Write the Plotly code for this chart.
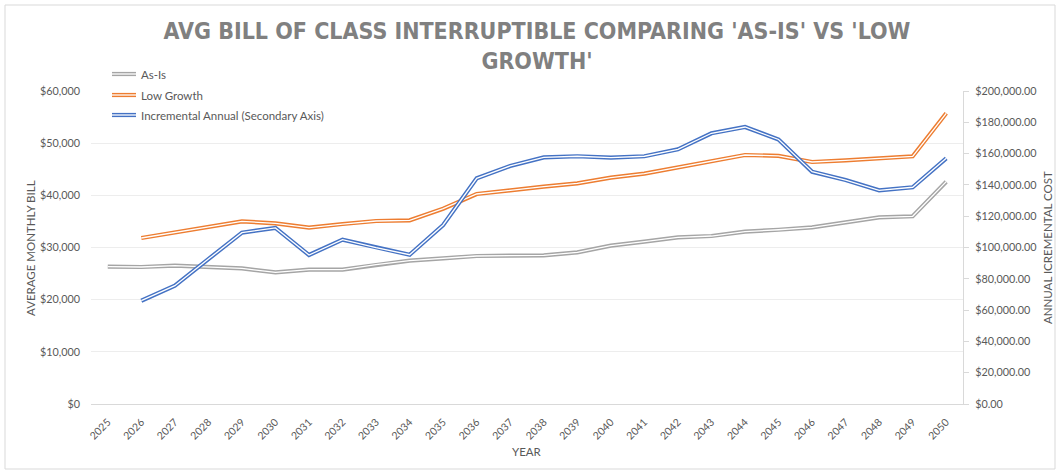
import plotly.graph_objects as go

years = [str(y) for y in range(2025, 2051)]
as_is = [26320, 26260, 26520, 26260, 26000, 25240, 25750, 25750, 26710, 27470,
         27920, 28370, 28430, 28500, 29080, 30350, 31110, 31950, 32200, 33030,
         33400, 33870, 34830, 35790, 35980, 42620]
low_growth = [None, 31820, 32900, 33990, 35010, 34630, 33800, 34500, 35080, 35210,
              37440, 40260, 41020, 41660, 42300, 43390, 44150, 45370, 46580, 47730,
              47570, 46390, 46700, 47030, 47480, 55720]
incremental = [None, 66000, 75600, 92600, 109500, 112500, 95200, 105000, 99900, 95400,
               114400, 144200, 152100, 157600, 158300, 157400, 158300, 162700, 173000, 177000,
               169000, 148400, 143100, 136500, 138500, 157000]
series_names = ["As-Is", "Low Growth", "Incremental Annual (Secondary Axis)"]
colors = ["#A5A5A5", "#ED7D31", "#4472C4"]

W, H = 1060, 471
L, R, T, B = 91, 963, 91, 404
FONT = "Lato, Open Sans, sans-serif"
TXT = "#595959"

fig = go.Figure()
data = [(as_is, "y"), (low_growth, "y"), (incremental, "y2")]
for (vals, ax), name, col in zip(data, series_names, colors):
    fig.add_trace(go.Scatter(x=years, y=vals, mode="lines", name=name, yaxis=ax,
                             line=dict(color=col, width=4.2), showlegend=False))
    fig.add_trace(go.Scatter(x=years, y=vals, mode="lines", yaxis=ax, hoverinfo="skip",
                             line=dict(color="white", width=1.3), showlegend=False))

def px_x(p):
    return (p - L) / (R - L)

def px_y(p):
    return (B - p) / (B - T)

shapes = []
annotations = []
# chart border
shapes.append(dict(type="rect", xref="paper", yref="paper",
                   x0=px_x(5), x1=px_x(1055), y0=px_y(469), y1=px_y(5),
                   line=dict(color="#D9D9D9", width=1), layer="below"))
# manual legend
leg_y = [74, 95, 115]
for name, col, py in zip(series_names, colors, leg_y):
    shapes.append(dict(type="line", xref="paper", yref="paper",
                       x0=px_x(112), x1=px_x(136), y0=px_y(py), y1=px_y(py),
                       line=dict(color=col, width=4.2)))
    shapes.append(dict(type="line", xref="paper", yref="paper",
                       x0=px_x(112), x1=px_x(136), y0=px_y(py), y1=px_y(py),
                       line=dict(color="white", width=1.3)))
    annotations.append(dict(xref="paper", yref="paper", x=px_x(139), y=px_y(py),
                            text=name, showarrow=False, xanchor="left", yanchor="middle",
                            font=dict(family=FONT, size=11.5, color=TXT)))
# axis titles
annotations.append(dict(xref="paper", yref="paper", x=px_x(30), y=px_y(248),
                        text="AVERAGE MONTHLY BILL", showarrow=False, textangle=-90,
                        xanchor="center", yanchor="middle",
                        font=dict(family=FONT, size=11.5, color=TXT)))
annotations.append(dict(xref="paper", yref="paper", x=px_x(1047), y=px_y(248),
                        text="ANNUAL ICREMENTAL COST", showarrow=False, textangle=-90,
                        xanchor="center", yanchor="middle",
                        font=dict(family=FONT, size=11.5, color=TXT)))
annotations.append(dict(xref="paper", yref="paper", x=px_x(527), y=px_y(451),
                        text="YEAR", showarrow=False, xanchor="center", yanchor="middle",
                        font=dict(family=FONT, size=11.5, color=TXT)))

fig.update_layout(
    width=W, height=H,
    margin=dict(l=L, r=W - R, t=T, b=H - B, pad=0),
    paper_bgcolor="white", plot_bgcolor="white",
    title=dict(text="AVG BILL OF CLASS INTERRUPTIBLE COMPARING 'AS-IS' VS 'LOW<br>GROWTH'",
               x=537 / W, xanchor="center", y=1 - 39 / H, yanchor="middle",
               font=dict(family="DejaVu Sans Condensed, DejaVu Sans, sans-serif",
                         size=23, color="#808080", weight="bold")),
    shapes=shapes, annotations=annotations,
    xaxis=dict(type="category", range=[-0.5, 25.5], tickangle=-45, showgrid=False,
               showline=True, linecolor="#D9D9D9", ticks="", zeroline=False,
               ticklabelstandoff=7,
               tickfont=dict(family=FONT, size=10.5, color=TXT)),
    yaxis=dict(range=[0, 60000], dtick=10000, tickformat="$,.0f", showgrid=True,
               gridcolor="#EDEDED", zeroline=False, showline=False, ticks="",
               ticklabelstandoff=10,
               tickfont=dict(family=FONT, size=10.8, color=TXT)),
    yaxis2=dict(range=[0, 200000], dtick=20000, tickformat="$,.2f", overlaying="y",
                side="right", showgrid=False, zeroline=False, showline=True,
                linecolor="#D9D9D9", ticks="outside", ticklen=5, tickcolor="#D9D9D9",
                ticklabelstandoff=4,
                tickfont=dict(family=FONT, size=10.8, color=TXT)),
    showlegend=False,
)

fig.write_html("out.html", config={"displayModeBar": False},
               post_script="document.body.style.margin='0';")
